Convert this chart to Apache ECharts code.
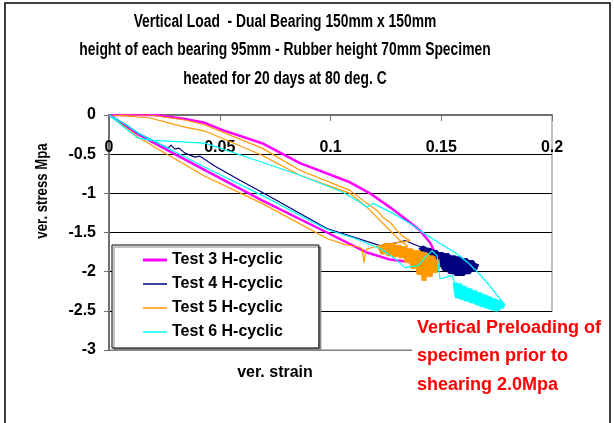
<!DOCTYPE html>
<html>
<head>
<meta charset="utf-8">
<script src="https://cdn.jsdelivr.net/npm/echarts@6/dist/echarts.min.js"></script>
<style>
html, body { margin: 0; padding: 0; background: #fff; }
#chart { width: 614px; height: 423px; }
</style>
</head>
<body>
<div id="chart"></div>
<script>
// test names
var names = ['Test 3 H-cyclic', 'Test 4 H-cyclic', 'Test 5 H-cyclic', 'Test 6 H-cyclic']
var titleLines = ['Vertical Load  - Dual Bearing 150mm x 150mm',
    'height of each bearing 95mm - Rubber height 70mm Specimen',
    'heated for 20 days at 80 deg. C']

// Test 3 - loading then unloading path
var strain3 = [0, 0.0072, 0.0131, 0.023, 0.0433, 0.0691, 0.0984, 0.1165, 0.1269, 0.1381, 0.1481,
    0.1472, 0.1449, 0.1404, 0.1359, 0.1269, 0.1178, 0.1088, 0.0862, 0.0691, 0.051, 0.0433, 0.0343, 0.0208, 0.0014]
var stress3 = [0, -0.128, -0.244, -0.397, -0.705, -1.09, -1.5, -1.756, -1.846, -1.885, -1.897,
    -1.756, -1.628, -1.474, -1.372, -1.179, -1.0, -0.859, -0.615, -0.36, -0.19, -0.1, -0.051, 0, 0]

// Test 4
var strain4 = [0, 0.0072, 0.0131, 0.023, 0.0266, 0.028, 0.0298, 0.0316, 0.0343, 0.0388, 0.0411, 0.0479,
    0.0591, 0.0691, 0.0984, 0.1111, 0.1223, 0.1305, 0.1336, 0.1368, 0.1413]
var stress4 = [0, -0.115, -0.231, -0.372, -0.423, -0.385, -0.436, -0.423, -0.487, -0.538, -0.526, -0.654,
    -0.833, -0.987, -1.449, -1.564, -1.667, -1.628, -1.603, -1.641, -1.692]
// Test 4 cycles at preload
var strain4Cyc = [0.1404, 0.1422, 0.1436, 0.1449, 0.1463, 0.1476, 0.149, 0.1503, 0.1517, 0.153, 0.1544, 0.1558,
    0.1571, 0.1585, 0.1598, 0.1612, 0.1625, 0.1639, 0.1652, 0.1661,
    0.1648, 0.1634, 0.1621, 0.1607, 0.1594, 0.158, 0.1567, 0.1553, 0.154, 0.1526, 0.1512, 0.1499, 0.1485,
    0.1472, 0.1458, 0.1445, 0.1431, 0.1418]
var stress4Cyc = [-1.731, -1.692, -1.833, -1.718, -1.885, -1.744, -1.936, -1.769, -1.987, -1.782, -2.026, -1.808,
    -2.051, -1.821, -2.038, -1.846, -2.013, -1.872, -1.962, -1.897,
    -1.987, -1.859, -2.026, -1.833, -2.051, -1.808, -2.038, -1.795, -2.013, -1.769, -1.962, -1.756, -1.91,
    -1.731, -1.859, -1.705, -1.795, -1.692]

// Test 5
var strain5 = [0, 0.0072, 0.0131, 0.023, 0.0433, 0.0691, 0.0984, 0.1065, 0.112, 0.1142, 0.1151, 0.116, 0.1187, 0.1223,
    0.1359, 0.1327, 0.13, 0.1269, 0.1237, 0.121, 0.1165, 0.1088, 0.0862, 0.0691, 0.0433, 0.0343, 0.0185, 0.0014,
    0.0185, 0.0343, 0.0433, 0.0691, 0.0862, 0.1088, 0.1165, 0.1223, 0.1278, 0.1314, 0.135]
var stress5 = [0, -0.154, -0.282, -0.449, -0.782, -1.128, -1.577, -1.654, -1.679, -1.705, -1.885, -1.718, -1.692, -1.667,
    -1.603, -1.551, -1.474, -1.372, -1.308, -1.218, -1.128, -0.962, -0.705, -0.423, -0.128, -0.064, 0, 0,
    -0.038, -0.154, -0.205, -0.513, -0.769, -1.0, -1.179, -1.346, -1.5, -1.603, -1.679]
var strain5Cyc = [0.1223, 0.1237, 0.1251, 0.1264, 0.1278, 0.1291, 0.1305, 0.1318, 0.1332, 0.1345, 0.1359, 0.1372,
    0.1386, 0.14, 0.1413, 0.1422, 0.1436, 0.1449, 0.1463, 0.1472, 0.1481, 0.1485,
    0.1467, 0.1454, 0.144, 0.1427, 0.1409, 0.1395, 0.1377, 0.1363, 0.135, 0.1336, 0.1323, 0.1309, 0.1296,
    0.1282, 0.1269, 0.1255, 0.1242, 0.1228]
var stress5Cyc = [-1.679, -1.769, -1.641, -1.795, -1.654, -1.808, -1.667, -1.821, -1.679, -1.885, -1.705, -1.962,
    -1.731, -2.038, -1.744, -2.115, -1.769, -2.064, -1.808, -2.013, -1.846, -1.949,
    -1.987, -1.795, -2.038, -1.756, -1.987, -1.731, -1.91, -1.718, -1.833, -1.692, -1.782, -1.667, -1.756,
    -1.654, -1.744, -1.654, -1.731, -1.667]

// Test 6
var strain6 = [0, 0.0072, 0.0131, 0.0185, 0.0433, 0.0691, 0.0862, 0.1056, 0.1133, 0.1165, 0.1192, 0.1282, 0.1359,
    0.1404, 0.1494, 0.1562, 0.1621, 0.1666, 0.1711, 0.1779,
    0.163, 0.1576, 0.1549, 0.1494, 0.1481, 0.1458, 0.1431, 0.1395, 0.1336, 0.1291, 0.1223, 0.1111, 0.0984,
    0.0691, 0.0433, 0.023, 0.0131, 0.0072, 0]
var stress6 = [0, -0.167, -0.295, -0.321, -0.359, -0.603, -0.769, -0.987, -1.115, -1.179, -1.128, -1.256, -1.385,
    -1.474, -1.641, -1.756, -1.885, -2.013, -2.154, -2.397,
    -2.372, -2.269, -2.051, -2.09, -1.795, -1.731, -1.808, -1.923, -1.949, -1.833, -1.705, -1.577, -1.462,
    -1.026, -0.667, -0.372, -0.231, -0.115, 0]
var strain6Cyc = [0.1562, 0.1573, 0.1585, 0.1596, 0.1607, 0.1619, 0.163, 0.1641, 0.1652, 0.1664, 0.1675, 0.1686,
    0.1698, 0.1709, 0.172, 0.1731, 0.1743, 0.1754, 0.1765, 0.1774, 0.1779,
    0.177, 0.1758, 0.1747, 0.1736, 0.1725, 0.1713, 0.1702, 0.1691, 0.1679, 0.1668, 0.1657, 0.1646, 0.1634,
    0.1623, 0.1612, 0.16, 0.1589, 0.1578, 0.1567]
var stress6Cyc = [-2.141, -2.333, -2.167, -2.354, -2.195, -2.376, -2.222, -2.399, -2.247, -2.421, -2.274, -2.444,
    -2.301, -2.465, -2.328, -2.488, -2.355, -2.494, -2.382, -2.449, -2.397,
    -2.462, -2.372, -2.5, -2.346, -2.481, -2.321, -2.462, -2.295, -2.436, -2.269, -2.41, -2.244, -2.391,
    -2.218, -2.372, -2.186, -2.346, -2.154, -2.295]

var colors = ['#ff00ff', '#000080', '#ff9900', '#00ffff']
var font = "'Liberation Sans', Arial, sans-serif"

function pairs(xs, ys) {
    return xs.map(function (x, i) { return [x, ys[i]] })
}

function line(name, xs, ys, color, width) {
    return {
        name: name,
        type: 'line',
        data: pairs(xs, ys),
        showSymbol: false,
        symbol: 'none',
        lineStyle: { color: color, width: width },
        itemStyle: { color: color }
    }
}

var thick = 'path://M0,0L24,0L24,3L0,3Z'
var thin = 'path://M0,0L24,0L24,1.5L0,1.5Z'

var myChart = echarts.init(document.getElementById('chart'))

var graphics = [
    {
        type: 'rect', z: 100,
        shape: { x: 5, y: 3, width: 605, height: 440 },
        style: { fill: 'none', stroke: '#000', lineWidth: 1.5 }
    },
    {
        type: 'text', z: 100,
        x: 42, y: 191, rotation: Math.PI / 2, scaleX: 0.8,
        style: { text: 'ver. stress Mpa', fontFamily: font, fontWeight: 'bold', fontSize: 16.5,
            fill: '#000', align: 'center', verticalAlign: 'middle' }
    },
    {
        type: 'text', z: 100,
        x: 275, y: 373,
        style: { text: 'ver. strain', fontFamily: font, fontWeight: 'bold', fontSize: 16,
            fill: '#000', align: 'center', verticalAlign: 'middle' }
    },
    {
        type: 'rect', z: 90,
        shape: { x: 412, y: 312, width: 196, height: 120 },
        style: { fill: '#fff' }
    },
    {
        type: 'text', z: 100,
        x: 417, y: 356.5,
        style: { text: 'Vertical Preloading of\nspecimen prior to\nshearing 2.0Mpa',
            fontFamily: font, fontWeight: 'bold', fontSize: 18,
            lineHeight: 28.5, fill: '#ff0000', align: 'left', verticalAlign: 'middle' }
    }
]
var titleY = [22, 50, 79]
titleLines.forEach(function (t, i) {
    graphics.push({
        type: 'text', z: 100,
        x: 285, y: titleY[i], scaleX: 0.77,
        style: { text: t, fontFamily: font, fontWeight: 'bold', fontSize: 18,
            fill: '#000', align: 'center', verticalAlign: 'middle' }
    })
})

var option = {
    backgroundColor: '#ffffff',
    animation: false,
    grid: {
        left: 109, top: 115, right: 62, bottom: 73,
        show: true,
        borderColor: '#808080',
        borderWidth: 1
    },
    legend: {
        data: names.map(function (n, i) { return { name: n, icon: i === 0 ? thick : thin } }),
        orient: 'vertical',
        left: 112,
        top: 245,
        itemWidth: 24,
        itemHeight: 16,
        itemGap: 8,
        padding: [7, 36, 8, 31],
        backgroundColor: '#fff',
        borderColor: '#000',
        borderWidth: 1,
        shadowColor: '#888',
        shadowOffsetX: 2,
        shadowOffsetY: 2,
        textStyle: { fontFamily: font, fontWeight: 'bold', fontSize: 16, lineHeight: 16, color: '#000' }
    },
    xAxis: {
        type: 'value',
        position: 'top',
        min: 0,
        max: 0.2,
        interval: 0.05,
        axisLine: { onZero: false, lineStyle: { color: '#707070', width: 2 } },
        axisTick: { show: true, inside: true, length: 6, lineStyle: { color: '#707070' } },
        axisLabel: { inside: true, margin: 25, fontFamily: font, fontWeight: 'bold', fontSize: 16, color: '#000' },
        splitLine: { show: false }
    },
    yAxis: {
        type: 'value',
        min: -3,
        max: 0,
        interval: 0.5,
        axisLine: { show: true, onZero: false, lineStyle: { color: '#707070', width: 2 } },
        axisTick: { show: true, length: 5, lineStyle: { color: '#707070' } },
        axisLabel: { margin: 13, fontFamily: font, fontWeight: 'bold', fontSize: 16, color: '#000' },
        splitLine: { show: true, lineStyle: { color: ['#808080', '#000', '#000', '#000', '#000', '#000', '#808080'], width: 1 } }
    },
    graphic: graphics,
    series: [
        line(names[0], strain3, stress3, colors[0], 2.5),
        line(names[1], strain4, stress4, colors[1], 1.2),
        line(names[1], strain4Cyc, stress4Cyc, colors[1], 5),
        line(names[2], strain5, stress5, colors[2], 1.2),
        line(names[2], strain5Cyc, stress5Cyc, colors[2], 5),
        line(names[3], strain6, stress6, colors[3], 1.2),
        line(names[3], strain6Cyc, stress6Cyc, colors[3], 5)
    ]
}

myChart.setOption(option)
</script>
</body>
</html>
